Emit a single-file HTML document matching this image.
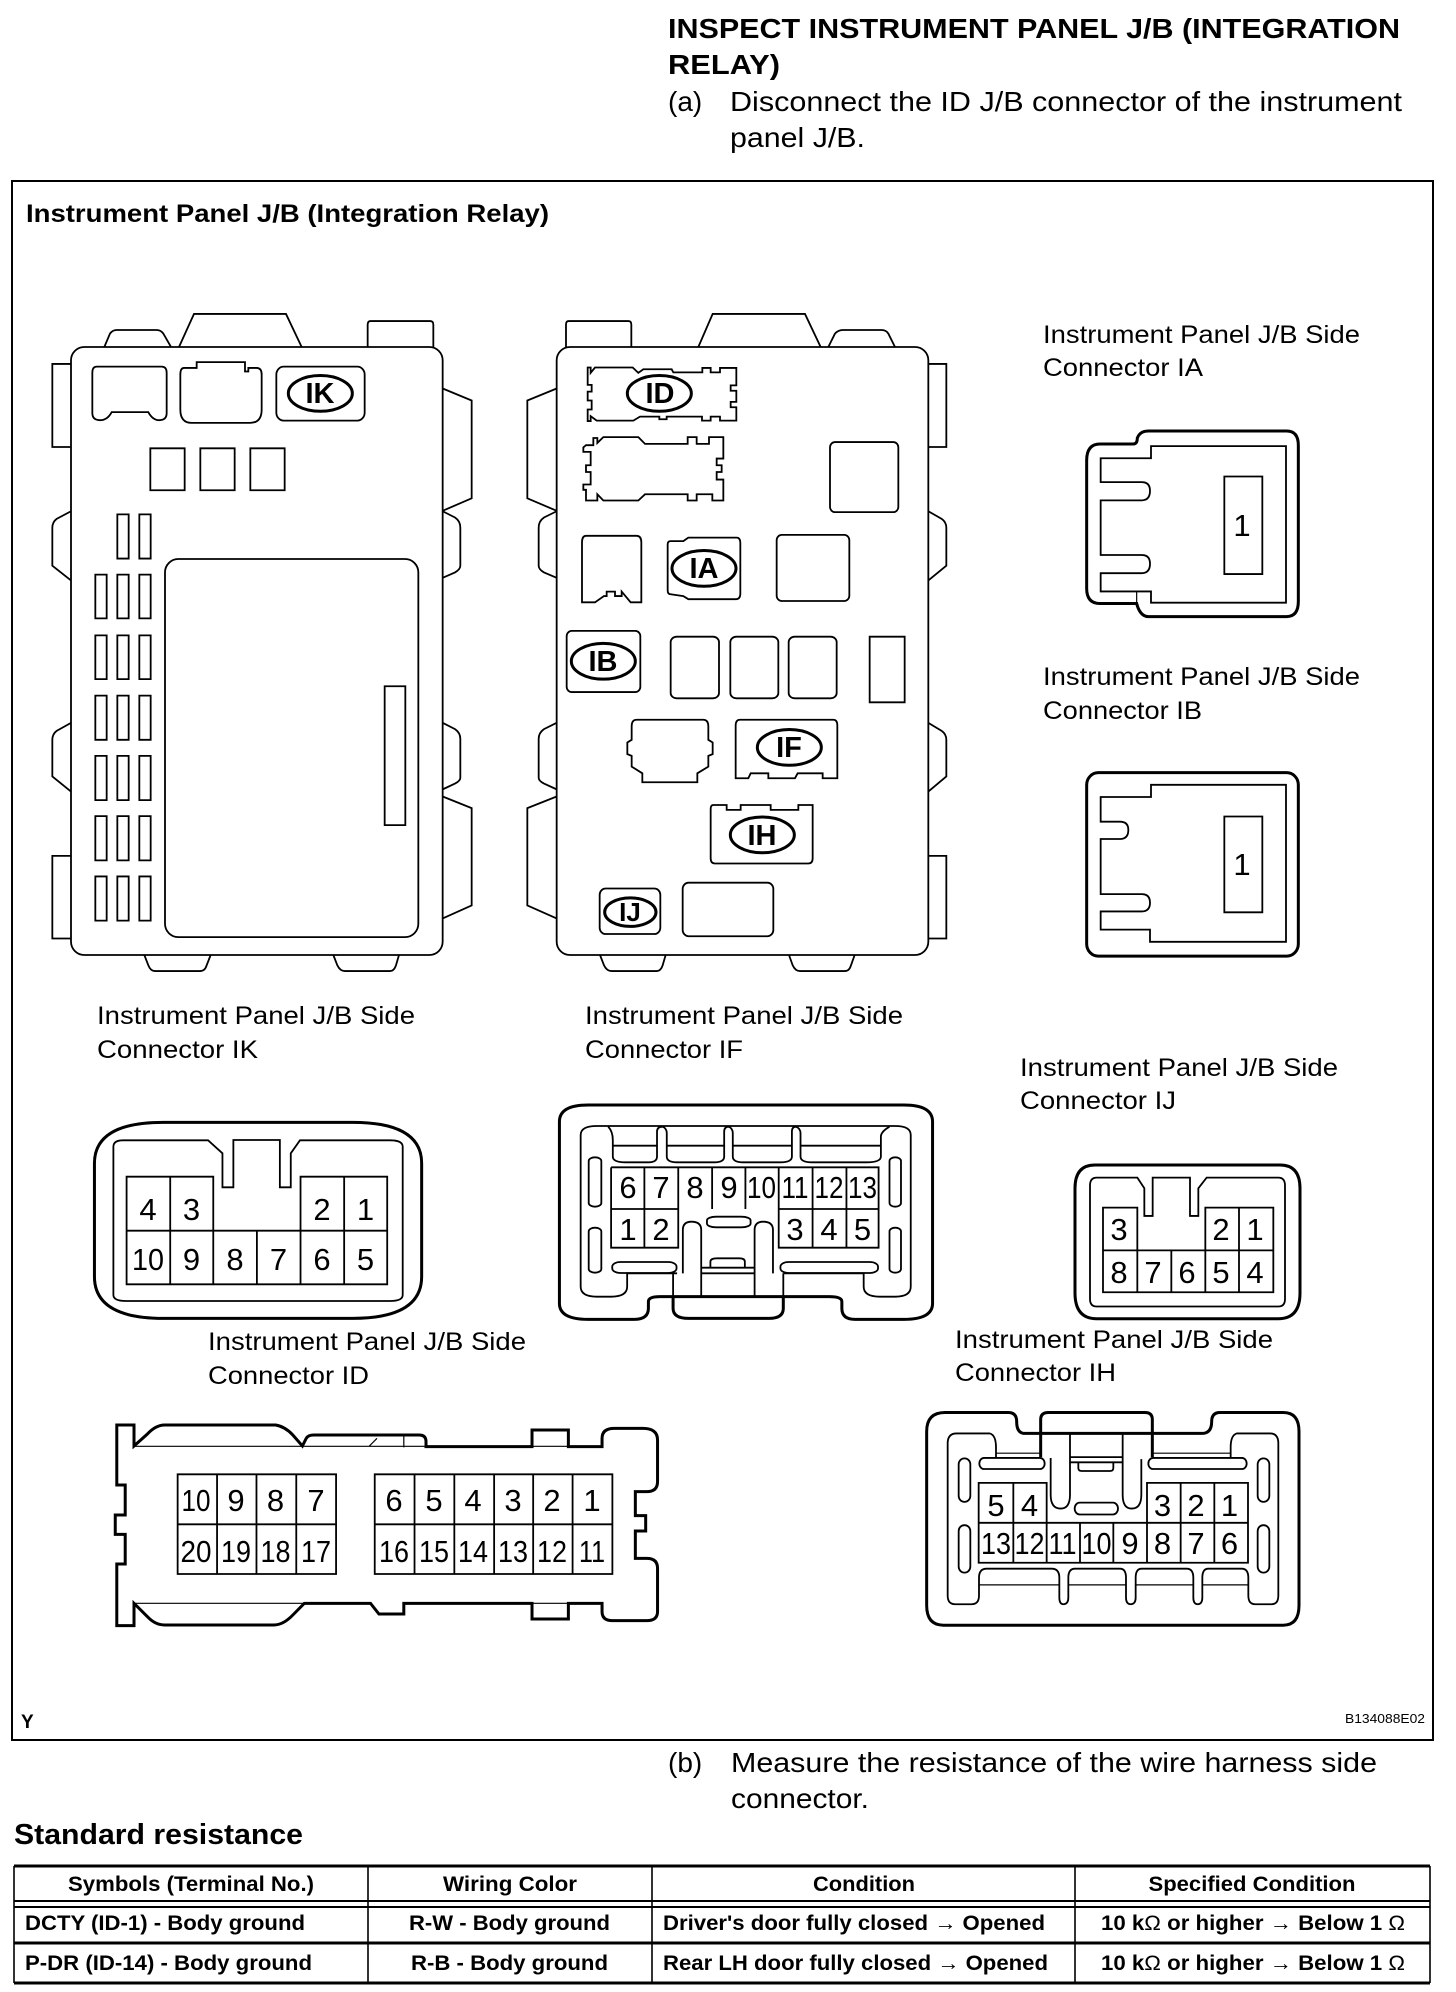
<!DOCTYPE html>
<html><head><meta charset="utf-8"><title>Inspect Instrument Panel J/B</title>
<style>
html,body{margin:0;padding:0;background:#fff}
svg{display:block}
text{font-family:"Liberation Sans",Arial,sans-serif;fill:#000}
.b{font-weight:bold}
.l{font-size:25px}
.d{font-size:31px;text-anchor:middle}
.o{font-size:29px;font-weight:bold;text-anchor:middle}
.t{font-size:21px;font-weight:bold}
.c{text-anchor:middle}
.n{font-weight:normal}
g.s *{fill:none;stroke:#000;stroke-width:1.8;vector-effect:non-scaling-stroke}
g.s .h{stroke-width:3}
g.s .w{fill:#fff}
g.s .f{stroke-width:1.2}
</style></head><body>
<svg xmlns="http://www.w3.org/2000/svg" width="1456" height="1992" viewBox="0 0 1456 1992">
<rect width="1456" height="1992" fill="#fff"/>
<text x="668" y="38" class="b" font-size="28" textLength="732" lengthAdjust="spacingAndGlyphs">INSPECT INSTRUMENT PANEL J/B (INTEGRATION</text>
<text x="668" y="74" class="b" font-size="28" textLength="112" lengthAdjust="spacingAndGlyphs">RELAY)</text>
<text x="668" y="111" font-size="28">(a)</text>
<text x="730" y="111" font-size="28" textLength="672" lengthAdjust="spacingAndGlyphs">Disconnect the ID J/B connector of the instrument</text>
<text x="730" y="147" font-size="28" textLength="135" lengthAdjust="spacingAndGlyphs">panel J/B.</text>
<rect x="12" y="181" width="1421" height="1559" fill="none" stroke="#000" stroke-width="2"/>
<text x="26" y="222" class="b l" textLength="523" lengthAdjust="spacingAndGlyphs">Instrument Panel J/B (Integration Relay)</text>

<!-- J/B left -->
<g class="s" transform="translate(0,280) scale(.33333,.44643)">
<path d="M313 150L330 120Q338 112 350 112H470Q482 112 490 120L513 150M537 150L582 76H858L905 150M1103 150V100Q1103 92 1112 92H1290Q1300 92 1300 100V150"/>
<path d="M213 188H157V374H213M213 518L170 535Q157 542 157 555V640L213 673M213 992L170 1010Q157 1017 157 1030V1112L213 1146M213 1290H157V1475H213"/>
<path d="M1328 243L1415 270V489L1328 517M1328 518L1365 532Q1381 540 1381 555V640Q1381 648 1365 655L1328 667M1328 992L1365 1006Q1381 1014 1381 1028V1115Q1381 1122 1365 1128L1328 1141M1328 1157L1415 1183V1401L1328 1430"/>
<path d="M433 1512L445 1535Q452 1548 465 1548H600Q615 1548 620 1535L632 1512M1000 1512L1012 1535Q1020 1548 1035 1548H1170Q1182 1548 1188 1535L1197 1512"/>
<rect x="213" y="150" width="1115" height="1362" rx="40" ry="30"/>
<path d="M290 194H485Q500 194 500 208V298Q500 314 478 314Q458 314 445 296H335Q322 314 300 314Q277 314 277 298V208Q277 194 290 194Z"/>
<path d="M552 197H590V184H735V205H745V197H770Q785 197 785 212V290Q785 320 750 320H575Q541 320 541 290V212Q541 197 552 197Z"/>
<rect x="829" y="194" width="265" height="121" rx="22" ry="18"/>
<ellipse class="h" cx="961" cy="254" rx="96" ry="40"/>
<rect x="451" y="377" width="103" height="94"/><rect x="601" y="377" width="103" height="94"/><rect x="751" y="377" width="103" height="94"/>
<rect x="352" y="525" width="34" height="99"/><rect x="418" y="525" width="34" height="99"/>
<rect x="286" y="660" width="34" height="98"/><rect x="352" y="660" width="34" height="98"/><rect x="418" y="660" width="34" height="98"/>
<rect x="286" y="796" width="34" height="98"/><rect x="352" y="796" width="34" height="98"/><rect x="418" y="796" width="34" height="98"/>
<rect x="286" y="931" width="34" height="99"/><rect x="352" y="931" width="34" height="99"/><rect x="418" y="931" width="34" height="99"/>
<rect x="286" y="1066" width="34" height="99"/><rect x="352" y="1066" width="34" height="99"/><rect x="418" y="1066" width="34" height="99"/>
<rect x="286" y="1201" width="34" height="99"/><rect x="352" y="1201" width="34" height="99"/><rect x="418" y="1201" width="34" height="99"/>
<rect x="286" y="1336" width="34" height="99"/><rect x="352" y="1336" width="34" height="99"/><rect x="418" y="1336" width="34" height="99"/>
<rect x="495" y="625" width="760" height="847" rx="40" ry="30"/>
<rect x="1154" y="910" width="62" height="311"/>
</g>
<text x="320" y="403" class="o">IK</text>

<!-- J/B right -->
<g class="s" transform="translate(500,280) scale(.33333,.44643)">
<path d="M198 150V100Q198 92 206 92H385Q394 92 394 100V150M595 150L638 76H915L962 150M985 150L1005 120Q1015 112 1028 112H1145Q1158 112 1165 120L1185 150"/>
<path d="M170 243L82 270V489L170 517M170 518L132 532Q116 540 116 555V640Q116 648 132 655L170 667M170 992L132 1006Q116 1014 116 1028V1115Q116 1122 132 1128L170 1141M170 1157L82 1183V1401L170 1430"/>
<path d="M1285 188H1339V374H1285M1285 518L1325 535Q1339 542 1339 555V640L1285 673M1285 992L1325 1010Q1339 1017 1339 1030V1112L1285 1146M1285 1290H1339V1475H1285"/>
<path d="M300 1512L312 1535Q320 1548 335 1548H470Q482 1548 488 1535L497 1512M867 1512L878 1535Q886 1548 900 1548H1035Q1048 1548 1053 1535L1064 1512"/>
<rect x="170" y="150" width="1115" height="1362" rx="40" ry="30"/>
<path d="M263 196H272V208L285 196H398L415 208L430 200H515L520 207H607V197H632V207H660V197H709V236H692V248H709V273H692V285H709V315H660V306H632V315H606V306H500V312H478V306H420L400 315H290L272 305V316H263V290H275V270H263V250H275V235H263Z"/>
<ellipse class="h" cx="478" cy="254" rx="96" ry="40" style="fill:#fff"/>
<path d="M258 370H280V354H292V365L310 352H415L435 367H563V352H590V367H627V352H670V400H650V415H665V430H650V447H670V494H637V480H590V494H563V480H435L415 494H310L292 480V494H258V470H250V458H272V430H258V415H272V385H250V375Z"/>
<rect x="990" y="363" width="205" height="157" rx="15" ry="12"/>
<path d="M258 573H410Q424 573 424 588V722H392L365 698V708H345V698H320V708H312L285 722H246V588Q246 573 258 573Z"/>
<path d="M512 585H550L565 577H710Q721 577 721 590V702Q721 715 708 715H565L550 708L512 704Q503 704 503 695V592Q503 585 512 585Z"/>
<ellipse class="h" cx="612" cy="646" rx="96" ry="40"/>
<rect x="830" y="571" width="218" height="148" rx="15" ry="12"/>
<rect x="200" y="786" width="221" height="137" rx="15" ry="12"/>
<ellipse class="h" cx="310" cy="854" rx="96" ry="40"/>
<rect x="512" y="799" width="145" height="138" rx="18" ry="12"/><rect x="691" y="799" width="144" height="138" rx="18" ry="12"/><rect x="866" y="799" width="144" height="138" rx="18" ry="12"/>
<rect x="1109" y="799" width="105" height="147"/>
<path d="M410 985H610Q625 985 625 1000V1030L638 1036V1062L625 1066V1090L592 1105V1125H427V1105L395 1090V1066L382 1062V1036L395 1030V1000Q395 985 410 985Z"/>
<path d="M720 985H1000Q1012 985 1012 998V1116H968V1105H893L885 1116H805V1105H752L745 1116H707V998Q707 985 720 985Z"/>
<ellipse class="h" cx="868" cy="1047" rx="96" ry="40"/>
<path d="M640 1176H680V1187H722V1176H812V1187H895V1176H938V1295Q938 1307 925 1307H645Q632 1307 632 1295V1185Q632 1176 640 1176Z"/>
<ellipse class="h" cx="787" cy="1243" rx="96" ry="40"/>
<rect x="299" y="1363" width="182" height="102" rx="18" ry="14"/>
<ellipse class="h" cx="391" cy="1416" rx="77" ry="32"/>
<rect x="548" y="1350" width="272" height="120" rx="18" ry="14"/>
</g>
<text x="660" y="403" class="o">ID</text>
<text x="704" y="578" class="o">IA</text>
<text x="603" y="671" class="o">IB</text>
<text x="789" y="757" class="o">IF</text>
<text x="762" y="845" class="o">IH</text>
<text x="630" y="921" class="o" style="font-size:26px">IJ</text>

<!-- IA / IB connectors -->
<text x="1043" y="343" class="l" textLength="317" lengthAdjust="spacingAndGlyphs">Instrument Panel J/B Side</text>
<text x="1043" y="376" class="l" textLength="160" lengthAdjust="spacingAndGlyphs">Connector IA</text>
<text x="1043" y="685" class="l" textLength="317" lengthAdjust="spacingAndGlyphs">Instrument Panel J/B Side</text>
<text x="1043" y="719" class="l" textLength="159" lengthAdjust="spacingAndGlyphs">Connector IB</text>
<g class="s" transform="translate(1000,300) scale(.33333,.43365)">
<path class="h" d="M300 332H400Q412 332 412 318Q420 302 445 302H860Q895 302 895 335V695Q895 730 860 730H445Q420 730 410 700H300Q260 700 260 665V370Q260 332 300 332Z"/>
<path d="M453 337H858V698H453V672H302V630H425Q450 630 450 608Q450 588 425 588H302V462H425Q450 462 450 440Q450 420 425 420H302V365H453Z"/>
<path class="f" d="M410 672V700"/>
<rect x="673" y="407" width="114" height="225"/>
<rect class="h" x="260" y="1090" width="635" height="423" rx="35" ry="28"/>
<path d="M453 1118H858V1480H450V1452H302V1410H425Q450 1410 450 1390Q450 1370 425 1370H302V1243H360Q385 1243 385 1222Q385 1203 360 1203H302V1146H453Z"/>
<rect x="673" y="1191" width="114" height="221"/>
</g>
<text x="1242" y="536" class="d">1</text>
<text x="1242" y="875" class="d">1</text>

<!-- IK / IF -->
<text x="97" y="1024" class="l" textLength="318" lengthAdjust="spacingAndGlyphs">Instrument Panel J/B Side</text>
<text x="97" y="1058" class="l" textLength="161" lengthAdjust="spacingAndGlyphs">Connector IK</text>
<text x="585" y="1024" class="l" textLength="318" lengthAdjust="spacingAndGlyphs">Instrument Panel J/B Side</text>
<text x="585" y="1058" class="l" textLength="158" lengthAdjust="spacingAndGlyphs">Connector IF</text>
<g class="s" transform="translate(60,1000) scale(.57405,.33333)">
<path class="h" d="M180 367H510Q630 367 630 490V830Q630 955 510 955H180Q60 955 60 830V490Q60 367 180 367Z"/>
<path d="M110 421H258L283 460V562H302V420H383V562H402V460L418 421H575Q597 421 597 440V885Q597 903 575 903H115Q93 903 93 885V440Q93 421 110 421Z"/>
<path d="M116 530H267V692H419V530H570V853H116ZM116 692H267M419 692H570M192 530V853M267 692V853M343 692V853M419 692V853M495 530V853"/>
<path class="h" d="M920 315H1470Q1520 315 1520 365V910Q1520 958 1470 958H1385Q1362 958 1362 925V905Q1362 890 1340 890H1045Q1025 890 1025 905V925Q1025 958 1000 958H920Q870 958 870 910V365Q870 315 920 315Z"/>
<path d="M935 378H1455Q1482 378 1482 405V860Q1482 890 1455 890H1428Q1400 890 1400 860V820H1260M935 378Q907 378 907 405V860Q907 890 935 890H960Q988 890 988 860V820H1075"/>
<path d="M955 380Q963 395 963 420V470Q963 487 985 487H1025Q1040 487 1040 470V395Q1040 380 1050 380Q1057 385 1057 400V470Q1057 487 1075 487H1140Q1157 487 1157 470V395Q1157 380 1165 380Q1172 385 1172 400V470Q1172 487 1190 487H1255Q1275 487 1275 470V395Q1275 380 1282 380Q1290 385 1290 400V470Q1290 487 1310 487H1405Q1430 487 1430 470V410Q1430 395 1445 380"/>
<path d="M963 437H1040M1057 437H1157M1172 437H1275M1290 437H1430"/>
<rect x="921" y="472" width="22" height="148" rx="11" ry="11"/><rect x="1445" y="472" width="20" height="148" rx="10" ry="11"/>
<rect x="921" y="683" width="22" height="135" rx="11" ry="11"/><rect x="1445" y="683" width="20" height="135" rx="10" ry="11"/>
<path d="M960 502H1426V743H1252V627M960 627H1077M1252 627H1426M960 502V743H1077V502M1018 502V743M1136 502V627M1194 502V627M1252 502V627M1311 502V743M1370 502V743"/>
<rect x="1127" y="650" width="76" height="32" rx="16" ry="11"/>
<path d="M1085 820V690Q1085 665 1100 665Q1117 665 1117 690V890M1210 890V690Q1210 665 1225 665Q1242 665 1242 690V820"/>
<rect x="962" y="786" width="112" height="33" rx="14" ry="14"/><rect x="1255" y="786" width="170" height="33" rx="14" ry="14"/>
<path d="M1133 803V785Q1133 775 1145 775H1183Q1193 775 1193 785V803M1117 803H1210M1117 820H1210"/>
<path class="h" d="M1068 890V925Q1068 955 1095 955H1235Q1260 955 1260 925V890"/>
<path d="M1068 820V890M1260 820V890"/>
</g>
<g>
<text class="d" x="148" y="1220">4</text><text class="d" x="191.5" y="1220">3</text><text class="d" x="322" y="1220">2</text><text class="d" x="365.5" y="1220">1</text>
<text class="d" x="148" y="1270" textLength="32" lengthAdjust="spacingAndGlyphs">10</text><text class="d" x="191.5" y="1270">9</text><text class="d" x="235" y="1270">8</text><text class="d" x="278.5" y="1270">7</text><text class="d" x="322" y="1270">6</text><text class="d" x="365.5" y="1270">5</text>
<text class="d" x="628" y="1198">6</text><text class="d" x="661" y="1198">7</text><text class="d" x="695" y="1198">8</text><text class="d" x="729" y="1198">9</text>
<text class="d" x="761.5" y="1198" textLength="29" lengthAdjust="spacingAndGlyphs">10</text><text class="d" x="795" y="1198" textLength="27" lengthAdjust="spacingAndGlyphs">11</text><text class="d" x="829" y="1198" textLength="29" lengthAdjust="spacingAndGlyphs">12</text><text class="d" x="862.5" y="1198" textLength="29" lengthAdjust="spacingAndGlyphs">13</text>
<text class="d" x="628" y="1240">1</text><text class="d" x="661" y="1240">2</text><text class="d" x="795" y="1240">3</text><text class="d" x="829" y="1240">4</text><text class="d" x="862.5" y="1240">5</text>
</g>

<!-- IJ / IH -->
<text x="1020" y="1076" class="l" textLength="318" lengthAdjust="spacingAndGlyphs">Instrument Panel J/B Side</text>
<text x="1020" y="1109" class="l" textLength="156" lengthAdjust="spacingAndGlyphs">Connector IJ</text>
<text x="955" y="1348" class="l" textLength="318" lengthAdjust="spacingAndGlyphs">Instrument Panel J/B Side</text>
<text x="955" y="1381" class="l" textLength="161" lengthAdjust="spacingAndGlyphs">Connector IH</text>
<g class="s" transform="translate(900,1040) scale(.33333,.39541)">
<path class="h" d="M585 316H1140Q1200 316 1200 375V640Q1200 705 1135 705H590Q525 705 525 640V375Q525 316 585 316Z"/>
<path d="M590 348H712L733 375V445H758V348H870V445H895V375L920 348H1135Q1155 348 1155 368V655Q1155 674 1135 674H590Q570 674 570 655V368Q570 348 590 348Z"/>
<path d="M609 424H712V532H916V424H1120V638H609ZM609 532H712M916 532H1120M712 532V638M814 532V638M916 532V638M1017 424V638"/>
<path class="h" d="M135 942H325Q350 942 350 965Q350 995 375 995H905Q935 995 935 965Q935 942 960 942H1150Q1197 942 1197 990V1430Q1197 1480 1150 1480H130Q80 1480 80 1430V990Q80 942 135 942Z"/>
<path class="h" d="M422 1055V960Q422 942 445 942H735Q757 942 757 960V1055"/>
<path d="M270 995Q288 1000 288 1030V1055M270 995H170Q143 995 143 1020V1405Q143 1427 165 1427H215Q237 1427 237 1405V1360Q237 1337 260 1337H455Q478 1337 478 1360V1410Q478 1427 490 1427Q505 1427 505 1410V1360Q505 1337 525 1337H660Q678 1337 678 1360V1410Q678 1427 692 1427Q707 1427 707 1410V1360Q707 1337 725 1337H860Q880 1337 880 1360V1410Q880 1427 893 1427Q907 1427 907 1410V1360Q907 1337 925 1337H1025Q1045 1337 1045 1360V1405Q1045 1427 1065 1427H1115Q1135 1427 1135 1405V1020Q1135 995 1110 995H1010Q992 1000 992 1030V1055"/>
<path class="f" d="M237 1378H478M505 1378H678M707 1378H880M907 1378H1045M288 1045H422M757 1045H992"/>
<rect x="238" y="1057" width="196" height="28" rx="14" ry="14"/><rect x="745" y="1057" width="295" height="28" rx="14" ry="14"/>
<rect x="524" y="1170" width="130" height="30" rx="15" ry="15"/>
<path d="M452 1057V1150Q452 1185 482 1185Q510 1185 510 1150V995M668 995V1150Q668 1185 695 1185Q724 1185 724 1150V1060"/>
<path d="M510 1055H668M510 1068H668M535 1068V1082Q535 1090 545 1090H630Q640 1090 640 1082V1068"/>
<rect x="176" y="1058" width="35" height="110" rx="17" ry="15"/><rect x="1073" y="1058" width="35" height="110" rx="17" ry="15"/>
<rect x="176" y="1227" width="35" height="120" rx="17" ry="15"/><rect x="1073" y="1227" width="35" height="120" rx="17" ry="15"/>
<path d="M236 1120H440V1221H741V1120H1044V1322H236ZM236 1221H440M741 1221H1044M340 1120V1322M440 1221V1322M540 1221V1322M640 1221V1322M741 1221V1322M842 1120V1322M943 1120V1322"/>
</g>
<g>
<text class="d" x="1119" y="1240">3</text><text class="d" x="1221" y="1240">2</text><text class="d" x="1255" y="1240">1</text>
<text class="d" x="1119" y="1283">8</text><text class="d" x="1153" y="1283">7</text><text class="d" x="1187" y="1283">6</text><text class="d" x="1221" y="1283">5</text><text class="d" x="1255" y="1283">4</text>
<text class="d" x="996" y="1516">5</text><text class="d" x="1029.5" y="1516">4</text><text class="d" x="1162.5" y="1516">3</text><text class="d" x="1196" y="1516">2</text><text class="d" x="1229.5" y="1516">1</text>
<text class="d" x="996" y="1554" textLength="30" lengthAdjust="spacingAndGlyphs">13</text><text class="d" x="1029.5" y="1554" textLength="30" lengthAdjust="spacingAndGlyphs">12</text><text class="d" x="1062.5" y="1554" textLength="28" lengthAdjust="spacingAndGlyphs">11</text><text class="d" x="1096.5" y="1554" textLength="30" lengthAdjust="spacingAndGlyphs">10</text><text class="d" x="1130" y="1554">9</text><text class="d" x="1162.5" y="1554">8</text><text class="d" x="1196" y="1554">7</text><text class="d" x="1229.5" y="1554">6</text>
</g>

<!-- ID -->
<text x="208" y="1350" class="l" textLength="318" lengthAdjust="spacingAndGlyphs">Instrument Panel J/B Side</text>
<text x="208" y="1384" class="l" textLength="161" lengthAdjust="spacingAndGlyphs">Connector ID</text>
<g class="s" transform="translate(90,1370) scale(.3827,.33333)">
<path class="h" d="M70 165H115V228L150 192Q172 165 195 165H485Q510 170 530 195L555 228L565 205Q570 195 585 195H860Q878 195 878 215V230H1155V180H1250V230H1338V205Q1338 175 1370 175H1445Q1483 175 1483 210V335Q1483 365 1455 365H1425V437H1452V483H1425V565H1455Q1483 565 1483 595V725Q1483 752 1455 752H1365Q1338 752 1338 725V700H1250V747H1155V700H820V732H755L733 700H560L530 735Q505 765 480 765H195Q170 765 150 740L115 700V767H70V582H92V493H66V435H92V345H70Z"/>
<path class="f" d="M115 229H878M1155 229H1250M820 197V232M730 228L750 205M1155 700H1250M115 700H560"/>
<path d="M229 313H643V612H229ZM229 463H643M332 313V612M435 313V612M539 313V612"/>
<path d="M744 313H1365V612H744ZM744 463H1365M848 313V612M952 313V612M1056 313V612M1158 313V612M1261 313V612"/>
</g>
<g>
<text class="d" x="196" y="1511" textLength="29" lengthAdjust="spacingAndGlyphs">10</text><text class="d" x="236" y="1511">9</text><text class="d" x="275.5" y="1511">8</text><text class="d" x="316" y="1511">7</text>
<text class="d" x="394" y="1511">6</text><text class="d" x="434" y="1511">5</text><text class="d" x="473" y="1511">4</text><text class="d" x="513" y="1511">3</text><text class="d" x="552" y="1511">2</text><text class="d" x="592" y="1511">1</text>
<text class="d" x="196" y="1562" textLength="31" lengthAdjust="spacingAndGlyphs">20</text><text class="d" x="236" y="1562" textLength="30" lengthAdjust="spacingAndGlyphs">19</text><text class="d" x="275.5" y="1562" textLength="30" lengthAdjust="spacingAndGlyphs">18</text><text class="d" x="316" y="1562" textLength="30" lengthAdjust="spacingAndGlyphs">17</text>
<text class="d" x="394" y="1562" textLength="30" lengthAdjust="spacingAndGlyphs">16</text><text class="d" x="434" y="1562" textLength="30" lengthAdjust="spacingAndGlyphs">15</text><text class="d" x="473" y="1562" textLength="30" lengthAdjust="spacingAndGlyphs">14</text><text class="d" x="513" y="1562" textLength="30" lengthAdjust="spacingAndGlyphs">13</text><text class="d" x="552" y="1562" textLength="30" lengthAdjust="spacingAndGlyphs">12</text><text class="d" x="592" y="1562" textLength="26" lengthAdjust="spacingAndGlyphs">11</text>
</g>

<text x="21" y="1728" class="b" font-size="19">Y</text>
<text x="1345" y="1723" font-size="13" textLength="80" lengthAdjust="spacingAndGlyphs">B134088E02</text>

<text x="668" y="1772" font-size="28">(b)</text>
<text x="731" y="1772" font-size="28" textLength="646" lengthAdjust="spacingAndGlyphs">Measure the resistance of the wire harness side</text>
<text x="731" y="1808" font-size="28" textLength="138" lengthAdjust="spacingAndGlyphs">connector.</text>
<text x="14" y="1844" class="b" font-size="29" textLength="289" lengthAdjust="spacingAndGlyphs">Standard resistance</text>

<!-- table -->
<g fill="none" stroke="#000">
<path stroke-width="3" d="M14 1866H1430M14 1983H1430M14 1943H1430"/>
<path stroke-width="2" d="M14 1901H1430M14 1907H1430"/>
<path stroke-width="1.6" d="M14 1866V1983M368 1866V1983M652 1866V1983M1075 1866V1983M1430 1866V1983"/>
</g>
<text class="t c" x="191" y="1891" textLength="246" lengthAdjust="spacingAndGlyphs">Symbols (Terminal No.)</text>
<text class="t c" x="510" y="1891" textLength="134" lengthAdjust="spacingAndGlyphs">Wiring Color</text>
<text class="t c" x="864" y="1891" textLength="102" lengthAdjust="spacingAndGlyphs">Condition</text>
<text class="t c" x="1252" y="1891" textLength="207" lengthAdjust="spacingAndGlyphs">Specified Condition</text>
<text class="t" x="25" y="1930" textLength="280" lengthAdjust="spacingAndGlyphs">DCTY (ID-1) - Body ground</text>
<text class="t" x="409" y="1930" textLength="201" lengthAdjust="spacingAndGlyphs">R-W - Body ground</text>
<text class="t" x="663" y="1930" textLength="382" lengthAdjust="spacingAndGlyphs">Driver's door fully closed <tspan class="n">→</tspan> Opened</text>
<text class="t" x="1101" y="1930" textLength="304" lengthAdjust="spacingAndGlyphs">10 k<tspan class="n">Ω</tspan> or higher <tspan class="n">→</tspan> Below 1 <tspan class="n">Ω</tspan></text>
<text class="t" x="25" y="1970" textLength="287" lengthAdjust="spacingAndGlyphs">P-DR (ID-14) - Body ground</text>
<text class="t" x="411" y="1970" textLength="197" lengthAdjust="spacingAndGlyphs">R-B - Body ground</text>
<text class="t" x="663" y="1970" textLength="385" lengthAdjust="spacingAndGlyphs">Rear LH door fully closed <tspan class="n">→</tspan> Opened</text>
<text class="t" x="1101" y="1970" textLength="304" lengthAdjust="spacingAndGlyphs">10 k<tspan class="n">Ω</tspan> or higher <tspan class="n">→</tspan> Below 1 <tspan class="n">Ω</tspan></text>
</svg>
</body></html>
